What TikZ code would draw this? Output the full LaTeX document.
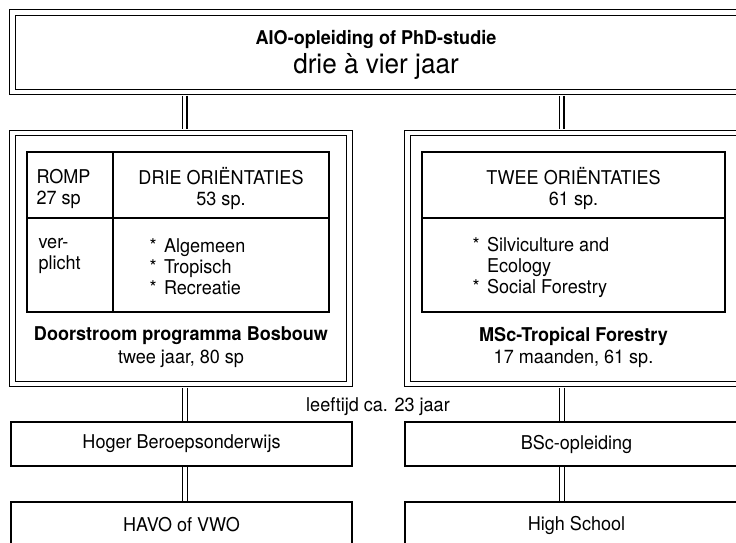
\documentclass[tikz,border=0pt]{standalone}
\usepackage{fontspec}
\setmainfont{TeX Gyre Heros}[FakeStretch=0.95]
\newcommand{\ster}{*\hspace{7.5pt}}
\begin{document}
\begin{tikzpicture}
[x=1pt, y=-1pt,
every node/.style={font=\fontsize{19}{21}\selectfont},
framenode/.style={rectangle, draw=black, double, double distance=4.5pt, line width=1.1pt, inner sep=0pt},
cellnode/.style={rectangle, draw=black, line width=1.1pt, inner sep=0pt},
boxnode/.style={rectangle, draw=black, line width=1.1pt, inner sep=0pt, minimum height=44pt},
connect/.style={draw=black, double, double distance=3.8pt, line width=1.1pt}]
\useasboundingbox (0,0) rectangle (736,543);
\clip (0,0) rectangle (736,543);
\node[framenode, minimum width=729pt, minimum height=79.5pt] (aio) at (377,52.25) {};
\node (aiotitle) at (376,39) {\textbf{AIO-opleiding of PhD-studie}};
\node[font=\fontsize{27.5}{30}\selectfont] (aioduur) at (376,66.5) {drie à vier jaar};
\node[framenode, minimum width=337pt, minimum height=251pt] (dsp) at (181,258.5) {};
\node[framenode, minimum width=338pt, minimum height=251pt] (msc) at (576.5,258.5) {};
\node[cellnode, minimum width=86pt, minimum height=66pt] (romp) at (70,185) {};
\node[cellnode, minimum width=216pt, minimum height=66pt] (drie) at (221,185) {};
\node[cellnode, minimum width=86pt, minimum height=94pt] (plicht) at (70,265) {};
\node[cellnode, minimum width=216pt, minimum height=94pt] (richting) at (221,265) {};
\node[cellnode, minimum width=303pt, minimum height=66pt] (twee) at (573.5,185) {};
\node[cellnode, minimum width=303pt, minimum height=94pt] (keuze) at (573.5,265) {};
\node[anchor=west, align=left] (romptxt) at (33,188.5) {ROMP\\27 sp};
\node[align=center] (drietxt) at (221,188.5) {DRIE ORIËNTATIES\\53 sp.};
\node[anchor=west, align=left] (plichttxt) at (35,256) {ver-\\plicht};
\node[anchor=west, align=left] (richttxt) at (146,267) {\ster Algemeen\\\ster Tropisch\\\ster Recreatie};
\node[align=center] (tweetxt) at (573.5,188.5) {TWEE ORIËNTATIES\\61 sp.};
\node[anchor=west, align=left] (keuzetxt) at (469,267) {\ster Silviculture and\\\hphantom{\ster}Ecology\\\ster Social Forestry};
\node[align=center] (dsptitle) at (181,347.5) {\textbf{Doorstroom programma Bosbouw}\\[2pt]twee jaar, 80 sp};
\node[align=center] (msctitle) at (573.5,347) {\textbf{MSc-Tropical Forestry}\\[1pt]17 maanden, 61 sp.};
\node (leeftijd) at (378,407) {leeftijd ca. 23 jaar};
\node[boxnode, minimum width=341pt] (hbo) at (181.5,444) {Hoger Beroepsonderwijs};
\node[boxnode, minimum width=343pt] (bsc) at (576.5,444) {BSc-opleiding};
\node[boxnode, minimum width=341pt, minimum height=46pt] (havo) at (181.5,525) {HAVO of VWO};
\node[boxnode, minimum width=343pt, minimum height=46pt] (school) at (576.5,525) {High School};
\draw[connect, shorten <=3pt, shorten >=3pt] ([xshift=3.5pt]dsp.north |- aio.south) -- ([xshift=3.5pt]dsp.north);
\draw[connect, shorten <=3pt, shorten >=3pt] ([xshift=-15pt]msc.north |- aio.south) -- ([xshift=-15pt]msc.north);
\draw[connect, shorten <=3pt, shorten >=0.5pt] ([xshift=4pt]dsp.south) -- ([xshift=4pt]dsp.south |- hbo.north);
\draw[connect, shorten <=3pt, shorten >=0.5pt] ([xshift=-14.5pt]msc.south) -- ([xshift=-14.5pt]msc.south |- bsc.north);
\draw[connect, shorten <=0.5pt, shorten >=0.5pt] ([xshift=3.5pt]hbo.south) -- ([xshift=3.5pt]hbo.south |- havo.north);
\draw[connect, shorten <=0.5pt, shorten >=0.5pt] ([xshift=-14.5pt]bsc.south) -- ([xshift=-14.5pt]bsc.south |- school.north);
\end{tikzpicture}
\end{document}
